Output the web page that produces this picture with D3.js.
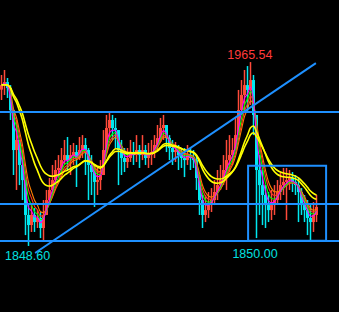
<!DOCTYPE html>
<html>
<head>
<meta charset="utf-8">
<script src="https://cdn.jsdelivr.net/npm/d3@7"></script>
<style>
  html, body { margin: 0; padding: 0; background: #000; }
  svg { display: block; }
</style>
</head>
<body>
<svg id="chart" width="339" height="312"></svg>
<script>
// price bars (open = previous close)
const closes = [
  1950.9, 1952.8, 1949.0, 1935.0, 1909.6, 1916.0, 1900.1, 1890.5, 1868.3, 1861.9,
  1868.3, 1863.8, 1866.4, 1860.0, 1868.3, 1877.8, 1884.2, 1890.5, 1896.9, 1898.2,
  1903.2, 1906.4, 1903.2, 1906.4, 1908.3, 1904.5, 1909.6, 1912.8, 1909.6, 1900.1,
  1895.6, 1889.3, 1890.5, 1893.7, 1909.6, 1923.6, 1928.7, 1923.6, 1922.3, 1909.6,
  1904.5, 1902.0, 1904.5, 1908.3, 1906.4, 1909.6, 1906.4, 1909.6, 1904.5, 1906.4,
  1908.3, 1912.8, 1917.2, 1923.6, 1925.5, 1917.2, 1910.9, 1908.3, 1909.6, 1906.4,
  1904.5, 1903.2, 1906.4, 1904.5, 1903.2, 1891.8, 1877.8, 1868.3, 1871.4, 1874.6,
  1877.8, 1882.9, 1887.3, 1890.5, 1896.9, 1903.2, 1906.4, 1909.6, 1919.1, 1935.0,
  1944.6, 1950.9, 1947.8, 1954.1, 1931.9, 1896.9, 1887.3, 1881.0, 1874.6, 1871.4,
  1874.6, 1877.8, 1882.9, 1887.3, 1889.3, 1890.5, 1891.8, 1889.3, 1887.3, 1882.9,
  1874.6, 1871.4, 1866.4, 1863.8, 1868.3, 1873.4
];
const highs = [
  1957.3, 1960.5, 1955.4, 1950.9, 1935.0, 1928.7, 1916.0, 1909.6, 1887.3, 1874.6,
  1874.6, 1872.7, 1871.4, 1870.2, 1877.8, 1884.2, 1891.8, 1900.1, 1903.2, 1906.4,
  1910.9, 1916.0, 1917.9, 1912.8, 1914.1, 1912.8, 1917.9, 1919.1, 1917.2, 1910.9,
  1906.4, 1900.1, 1898.2, 1903.2, 1922.3, 1931.9, 1933.8, 1931.9, 1930.0, 1922.3,
  1916.0, 1910.9, 1910.9, 1916.0, 1914.7, 1919.1, 1912.8, 1919.1, 1912.8, 1914.1,
  1916.0, 1919.1, 1925.5, 1930.0, 1931.9, 1925.5, 1919.1, 1916.0, 1914.7, 1912.8,
  1910.9, 1910.9, 1912.8, 1910.9, 1909.6, 1906.4, 1893.7, 1881.0, 1881.0, 1882.9,
  1885.4, 1890.5, 1896.9, 1900.1, 1906.4, 1916.0, 1919.1, 1917.2, 1930.0, 1947.8,
  1954.1, 1960.5, 1963.0, 1965.54, 1957.3, 1928.7, 1906.4, 1896.9, 1887.3, 1882.9,
  1884.2, 1887.3, 1890.5, 1895.6, 1898.2, 1898.2, 1896.9, 1895.6, 1893.7, 1891.8,
  1885.4, 1881.0, 1877.8, 1874.6, 1876.5, 1881.0
];
const lows = [
  1941.4, 1944.6, 1942.7, 1928.7, 1893.7, 1884.2, 1887.3, 1877.8, 1855.5, 1848.6,
  1857.5, 1857.5, 1860.0, 1853.6, 1852.4, 1868.3, 1874.6, 1881.0, 1887.3, 1891.8,
  1895.6, 1900.1, 1896.9, 1893.7, 1900.1, 1886.1, 1903.2, 1904.5, 1893.7, 1877.8,
  1881.0, 1873.4, 1881.0, 1884.2, 1896.9, 1909.6, 1916.0, 1916.0, 1910.9, 1887.3,
  1893.7, 1895.6, 1898.2, 1902.0, 1900.1, 1902.0, 1898.2, 1903.2, 1900.1, 1898.2,
  1900.1, 1904.5, 1909.6, 1914.7, 1916.0, 1908.3, 1903.2, 1900.1, 1902.0, 1896.9,
  1898.2, 1892.4, 1900.1, 1896.9, 1898.2, 1884.2, 1868.3, 1860.0, 1863.8, 1866.4,
  1870.2, 1874.6, 1877.8, 1884.2, 1887.3, 1884.2, 1895.6, 1900.1, 1909.6, 1925.5,
  1931.9, 1935.0, 1933.8, 1938.2, 1919.1, 1853.6, 1868.3, 1861.9, 1860.0, 1863.8,
  1865.1, 1868.3, 1874.6, 1877.8, 1881.0, 1865.1, 1884.2, 1882.9, 1881.0, 1863.8,
  1868.3, 1863.8, 1855.5, 1852.4, 1857.5, 1863.8
];
const firstOpen = 1948.0;

// moving averages (EMA periods and colours)
const maPeriods = [6, 5, 4, 3, 18, 14];
const maColors = ["#ff8000", "#ff3a20", "#00ff00", "#ff00ff", "#ffff00", "#ffff00"];

// horizontal levels
const levels = [1933.8, 1875.3, 1851.8];

// trend line (bar index, price)
const trendIdx = [11.2, 104.8];
const trendPrice = [1844.1, 1964.9];

// box (bar index range, price range)
const boxIdx = [82.2, 108.2];
const boxPrice = [1851.9, 1899.6];

// price labels
const labelText = ["1965.54", "1848.60", "1850.00"];
const labelIdx = [82.8, 8.7, 84.5];
const labelPrice = [1965.54, 1848.6, 1850.0];
const labelDy = [-3.5, 14.5, 14];
const labelColor = ["#ff3a3a", "#00e0e0", "#00e0e0"];

const width = 339, height = 312;
const svg = d3.select("#chart");

svg.append("rect")
  .attr("width", width).attr("height", height)
  .attr("fill", "#000");

const x = d3.scaleLinear().domain([-0.5, 112.5]).range([0, width]);
const y = d3.scaleLinear().domain([1806.6, 2005]).range([height, 0]);

const bars = closes.map((c, i) => ({
  i: i,
  open: i === 0 ? firstOpen : closes[i - 1],
  close: c,
  high: highs[i],
  low: lows[i]
}));

const upColor = "#ff4a3a";
const downColor = "#00e8f0";

// wicks
svg.append("g")
  .selectAll("line")
  .data(bars)
  .join("line")
  .attr("x1", d => x(d.i)).attr("x2", d => x(d.i))
  .attr("y1", d => y(d.high)).attr("y2", d => y(d.low))
  .attr("stroke", d => d.close >= d.open ? upColor : downColor)
  .attr("stroke-width", 1.5);

// bodies
svg.append("g")
  .selectAll("rect")
  .data(bars)
  .join("rect")
  .attr("x", d => x(d.i) - 1.5)
  .attr("width", 3)
  .attr("y", d => y(Math.max(d.open, d.close)))
  .attr("height", d => Math.max(1, Math.abs(y(d.open) - y(d.close))))
  .attr("fill", d => d.close >= d.open ? upColor : downColor);

// exponential moving averages
function ema(values, n) {
  const k = 2 / (n + 1);
  const out = [];
  values.forEach((v, i) => {
    out.push(i === 0 ? v : out[i - 1] + k * (v - out[i - 1]));
  });
  return out;
}

const line = d3.line()
  .x((d, i) => x(i))
  .y(d => y(d))
  .curve(d3.curveMonotoneX);

maPeriods.forEach((n, j) => {
  svg.append("path")
    .datum(ema(closes, n))
    .attr("d", line)
    .attr("fill", "none")
    .attr("stroke", maColors[j])
    .attr("stroke-width", n > 10 ? 1.6 : 1.1);
});

// levels
svg.append("g")
  .selectAll("line")
  .data(levels)
  .join("line")
  .attr("x1", 0).attr("x2", width)
  .attr("y1", d => y(d)).attr("y2", d => y(d))
  .attr("stroke", "#1e90ff")
  .attr("stroke-width", 2);

// trend line
svg.append("line")
  .attr("x1", x(trendIdx[0])).attr("y1", y(trendPrice[0]))
  .attr("x2", x(trendIdx[1])).attr("y2", y(trendPrice[1]))
  .attr("stroke", "#1e90ff")
  .attr("stroke-width", 2);

// box
svg.append("rect")
  .attr("x", x(boxIdx[0]))
  .attr("y", y(boxPrice[1]))
  .attr("width", x(boxIdx[1]) - x(boxIdx[0]))
  .attr("height", y(boxPrice[0]) - y(boxPrice[1]))
  .attr("fill", "none")
  .attr("stroke", "#1e90ff")
  .attr("stroke-width", 2);

// labels
labelText.forEach((t, j) => {
  svg.append("text")
    .attr("x", x(labelIdx[j]))
    .attr("y", y(labelPrice[j]) + labelDy[j])
    .attr("text-anchor", "middle")
    .attr("fill", labelColor[j])
    .style("font-family", "'Liberation Sans', Arial, sans-serif")
    .style("font-size", "12.5px")
    .text(t);
});
</script>
</body>
</html>
